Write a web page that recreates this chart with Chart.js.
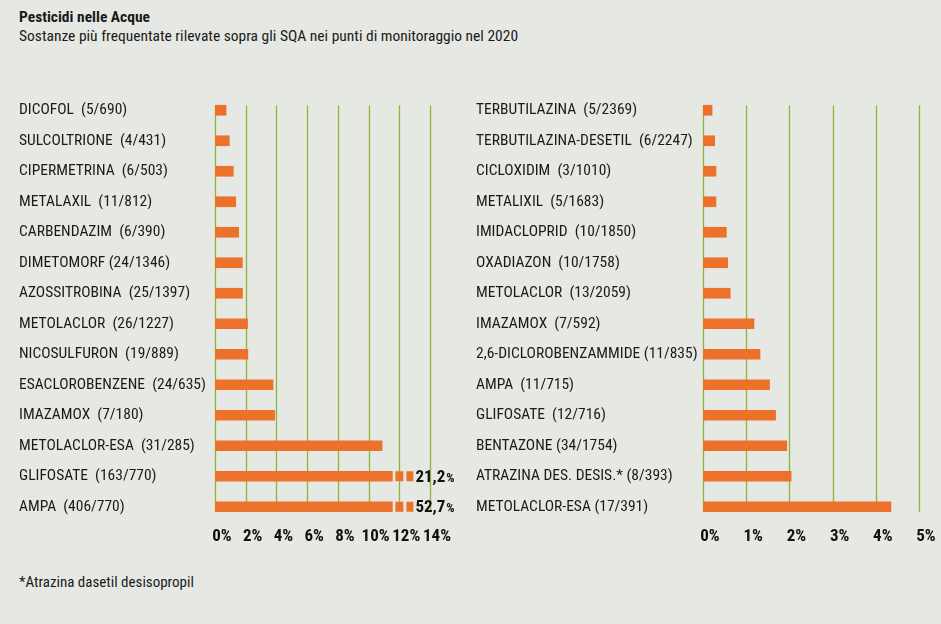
<!DOCTYPE html>
<html>
<head>
<meta charset="utf-8">
<script src="https://cdn.jsdelivr.net/npm/chart.js@4"></script>
<style>
  html, body { margin:0; padding:0; background:#e6e8e3; }
  body { width:941px; height:624px; position:relative; overflow:hidden;
         font-family:"Liberation Sans Narrow","Roboto Condensed","DejaVu Sans Condensed",sans-serif; color:#1a1a1a; }
  #title { position:absolute; left:19px; top:8px; font-size:15.5px; font-weight:bold; }
  #subtitle { position:absolute; left:19px; top:27px; font-size:15.5px; }
  #note { position:absolute; left:19px; top:573px; font-size:15px; }
  canvas { position:absolute; top:0; }
  #c1 { left:0; }
  #c2 { left:457px; }
</style>
</head>
<body>
<div id="title">Pesticidi nelle Acque</div>
<div id="subtitle">Sostanze più frequentate rilevate sopra gli SQA nei punti di monitoraggio nel 2020</div>
<div id="note">*Atrazina dasetil desisopropil</div>
<canvas id="c1" width="470" height="560"></canvas>
<canvas id="c2" width="484" height="560"></canvas>
<script>
const leftLabels = ["DICOFOL  (5/690)", "SULCOLTRIONE  (4/431)", "CIPERMETRINA  (6/503)", "METALAXIL  (11/812)",
  "CARBENDAZIM  (6/390)", "DIMETOMORF (24/1346)", "AZOSSITROBINA  (25/1397)", "METOLACLOR  (26/1227)",
  "NICOSULFURON  (19/889)", "ESACLOROBENZENE  (24/635)", "IMAZAMOX  (7/180)", "METOLACLOR-ESA  (31/285)",
  "GLIFOSATE  (163/770)", "AMPA  (406/770)"];
const leftValues = [0.72, 0.93, 1.19, 1.35, 1.54, 1.78, 1.79, 2.12, 2.14, 3.78, 3.89, 10.88, 21.17, 52.73];
const leftTicks = ["0%", "2%", "4%", "6%", "8%", "10%", "12%", "14%"];

const rightLabels = ["TERBUTILAZINA  (5/2369)", "TERBUTILAZINA-DESETIL  (6/2247)", "CICLOXIDIM  (3/1010)",
  "METALIXIL  (5/1683)", "IMIDACLOPRID  (10/1850)", "OXADIAZON  (10/1758)", "METOLACLOR  (13/2059)",
  "IMAZAMOX  (7/592)", "2,6-DICLOROBENZAMMIDE (11/835)", "AMPA  (11/715)", "GLIFOSATE  (12/716)",
  "BENTAZONE (34/1754)", "ATRAZINA DES. DESIS.* (8/393)", "METOLACLOR-ESA (17/391)"];
const rightValues = [0.21, 0.27, 0.30, 0.30, 0.54, 0.57, 0.63, 1.18, 1.32, 1.54, 1.68, 1.94, 2.04, 4.35];
const rightTicks = ["0%", "1%", "2%", "3%", "4%", "5%"];

const FONT = "'Liberation Sans Narrow','Roboto Condensed','DejaVu Sans Condensed',sans-serif";
const ORANGE = "#ec722c";
const GREEN = "#8cb43f";
const BAR = 10;

const gridPlugin = {
  id: 'customGrid',
  beforeDatasetsDraw(chart) {
    const x = chart.scales.x, y = chart.scales.y, ctx = chart.ctx;
    const n = chart.data.labels.length;
    const top = y.getPixelForValue(0) - BAR / 2;
    const bot = y.getPixelForValue(n - 1) + BAR / 2;
    ctx.save();
    ctx.strokeStyle = GREEN;
    ctx.lineWidth = 1.3;
    x.ticks.forEach(t => {
      const px = Math.round(x.getPixelForValue(t.value)) + 0.5;
      ctx.beginPath(); ctx.moveTo(px, top); ctx.lineTo(px, bot); ctx.stroke();
    });
    ctx.restore();
  }
};

const breakPlugin = {
  id: 'breaks',
  afterDatasetsDraw(chart, args, opts) {
    if (!opts || !opts.real) return;
    const x = chart.scales.x, y = chart.scales.y, ctx = chart.ctx;
    ctx.save();
    opts.real.forEach((v, i) => {
      if (v <= opts.cap) return;
      const end = x.getPixelForValue(opts.cap);
      const cy = y.getPixelForValue(i);
      ctx.fillStyle = ORANGE;
      ctx.fillRect(end + 3, cy - BAR / 2, 8, BAR);
      ctx.fillRect(end + 14, cy - BAR / 2, 7, BAR);
      const num = v.toFixed(1).replace('.', ',');
      ctx.fillStyle = '#111';
      ctx.textBaseline = 'middle';
      ctx.textAlign = 'left';
      ctx.font = "bold 17px " + FONT;
      ctx.fillText(num, end + 23, cy + 1);
      const w = ctx.measureText(num).width;
      ctx.font = "bold 13px " + FONT;
      ctx.fillText('%', end + 23 + w + 1, cy + 2);
    });
    ctx.restore();
  }
};

function makeChart(id, labels, values, ticks, max, step, axisWidth, padRight, cap) {
  const shown = cap ? values.map(v => Math.min(v, cap)) : values;
  return new Chart(document.getElementById(id), {
    type: 'bar',
    data: { labels: labels, datasets: [{ data: shown, backgroundColor: ORANGE, barThickness: BAR, borderWidth: 0 }] },
    plugins: [gridPlugin, breakPlugin],
    options: {
      indexAxis: 'y',
      responsive: false,
      animation: false,
      devicePixelRatio: 1,
      layout: { padding: { left: 19, top: 95, right: padRight, bottom: 0 } },
      plugins: { legend: { display: false }, tooltip: { enabled: false },
                 breaks: cap ? { real: values, cap: cap } : false },
      scales: {
        y: {
          grid: { display: false, drawTicks: false },
          border: { display: false },
          ticks: { crossAlign: 'far', color: '#1a1a1a', padding: 0, font: { family: FONT, size: 15.5 } },
          afterFit(s) { s.width = axisWidth; }
        },
        x: {
          min: 0, max: max,
          grid: { display: false, drawTicks: false },
          border: { display: false },
          ticks: { stepSize: step, color: '#111', padding: 5, labelOffset: 7,
                   maxRotation: 0, minRotation: 0, autoSkip: false,
                   font: { family: FONT, size: 17, weight: 'bold' },
                   callback: (v, i) => ticks[i] },
          afterFit(s) { s.height = 38; }
        }
      }
    }
  });
}

makeChart('c1', leftLabels, leftValues, leftTicks, 14, 2, 196, 40, 11.55);
makeChart('c2', rightLabels, rightValues, rightTicks, 5, 1, 227, 22, null);
</script>
</body>
</html>
